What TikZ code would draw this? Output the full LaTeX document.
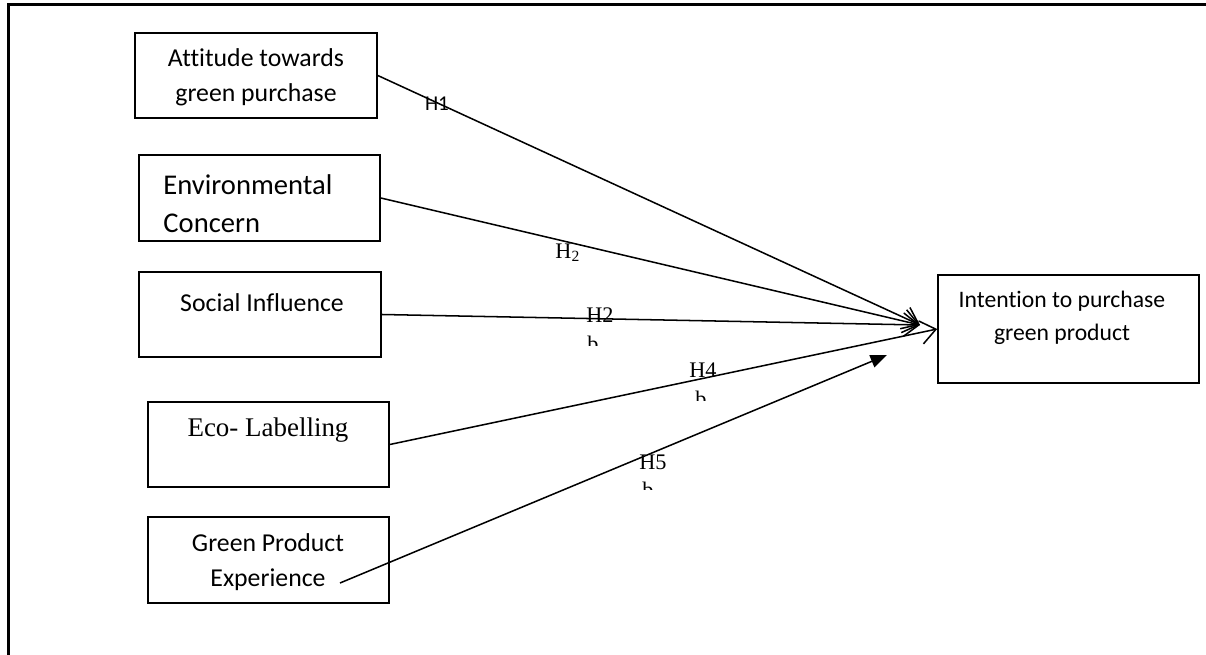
\documentclass[tikz,border=0pt]{standalone}
\usepackage{fontspec}
\setmainfont{Liberation Serif}
\newfontfamily\calibri[Ligatures=NoCommon]{Carlito}
\usetikzlibrary{arrows.meta}
\tikzset{>=stealth}
\tikzset{
  box/.style 2 args={draw, line width=0.7pt, minimum width=#1*0.015cm, minimum height=#2*0.015cm, inner sep=0pt},
  sans/.style={font=\calibri\fontsize{11}{15}\selectfont, align=center, inner sep=0pt},
  hyp/.style={font=\fontsize{9.5}{10}\selectfont, inner sep=0pt},
  link/.style={line width=0.65pt, -{Straight Barb[length=6.5pt,width=10pt]}},
  linkf/.style={line width=0.65pt, -{Triangle[length=7pt,width=5.5pt]}}
}

\begin{document}
\begin{tikzpicture}[x=0.015cm, y=-0.015cm]
  \useasboundingbox (0,0) rectangle (1206,655);
  \draw[line width=1pt] (8.5,655) -- (8.5,4.5) -- (1206,4.5);

  % constructs
  \node[box={242}{85}] (att) at (256,75.5) {};
  \node[box={241}{86}] (env) at (259.5,198) {};
  \node[box={242}{85}] (soc) at (260,314.5) {};
  \node[box={241}{85}] (eco) at (268.5,444.5) {};
  \node[box={241}{86}] (gpe) at (268.5,560) {};
  \node[box={261}{108}] (int) at (1068.5,329) {};

  \node[sans] (attT) at (256,77) {Attitude towards\\green purchase};
  \node[sans, font=\calibri\fontsize{12.2}{16}\selectfont, align=left, anchor=west] (envT) at (163,203.5) {Environmental\\Concern};
  \node[sans] (socT) at (262,303) {Social Influence};
  \node[font=\fontsize{11.5}{13}\selectfont, inner sep=0pt] (ecoT) at (268,430) {Eco- Labelling};
  \node[sans] (gpeT) at (268,562) {Green Product\\Experience};
  \node[sans, font=\calibri\fontsize{10.1}{14.1}\selectfont] (intT) at (1062,317.5) {Intention to purchase\\green product};

  % hypotheses
  \node[hyp, font=\calibri\fontsize{9}{10}\selectfont] (h1) at (437,104) {H1};
  \node[hyp] (h2) at (568,253) {H\textsubscript{2}};
  \node[hyp] (h3) at (600,315) {H2};
  \node[hyp] (h4) at (703,370) {H4};
  \node[hyp] (h5) at (653,462) {H5};
  \begin{scope}
    \clip (580,335) rectangle (610,345.5);
    \node[hyp, anchor=north] (b3) at (593,336) {b};
  \end{scope}
  \begin{scope}
    \clip (690,390) rectangle (715,400.5);
    \node[hyp, anchor=north] (b4) at (701,391) {b};
  \end{scope}
  \begin{scope}
    \clip (638,482) rectangle (660,490);
    \node[hyp, anchor=north] (b5) at (648,482) {b};
  \end{scope}

  \coordinate (tip) at (920,325);
  \coordinate (gpeS) at (340,583);
  \coordinate (h5E) at (887,355);
  \draw[link] (att.east) -- (tip);
  \draw[link] (env.east) -- (tip);
  \draw[link] (soc.east) -- (tip);
  \draw[link] (eco.east) -- (int.west);
  \draw[linkf] (gpeS) -- (h5E);
\end{tikzpicture}
\end{document}
